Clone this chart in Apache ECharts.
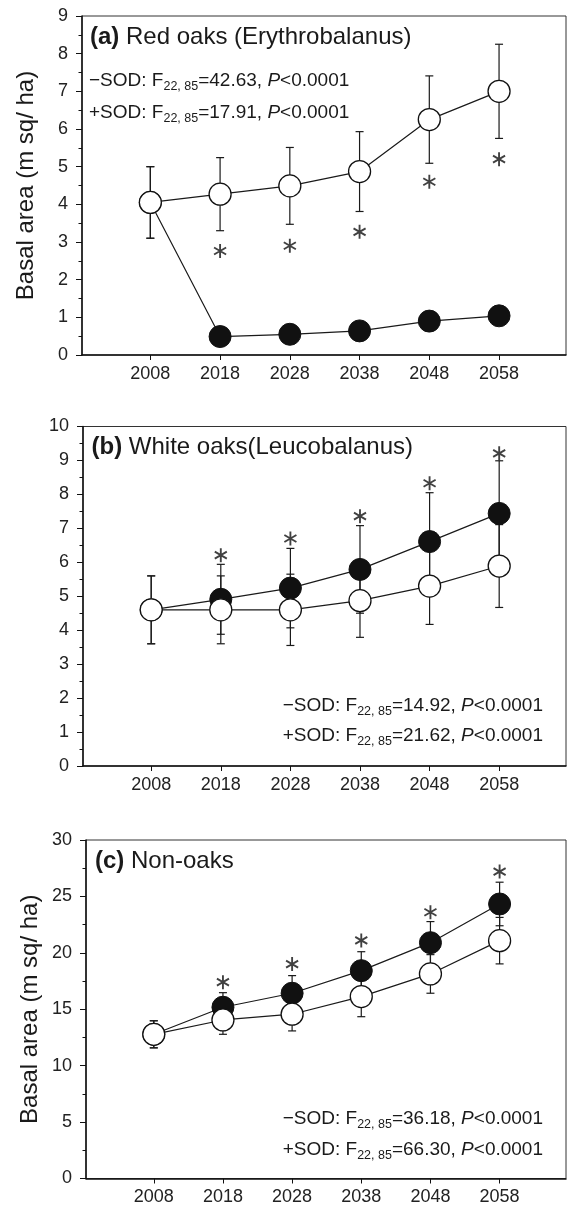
<!DOCTYPE html>
<html>
<head>
<meta charset="utf-8">
<title>Basal area projections</title>
<script src="https://cdn.jsdelivr.net/npm/echarts@6/dist/echarts.min.js"></script>
<style>
  html, body { margin: 0; padding: 0; background: #fff; }
  #chart { width: 568px; height: 1207px; }
</style>
</head>
<body>
<div id="chart"></div>
<script>
// x categories (years)
const years = [2008, 2018, 2028, 2038, 2048, 2058];

// (a) Red oaks: open = without SOD, filled = with SOD
const redOpen = [4.05, 4.27, 4.49, 4.87, 6.25, 7.0];
const redOpenErr = [0.95, 0.97, 1.02, 1.06, 1.16, 1.25];
const redFilled = [4.05, 0.49, 0.55, 0.64, 0.9, 1.04];
const redFilledErr = [0.95, 0.1, 0.1, 0.12, 0.15, 0.18];
const redStar = [null, 2.76, 2.9, 3.27, 4.6, 5.2];

// (b) White oaks
const whiteOpen = [4.6, 4.6, 4.6, 4.87, 5.3, 5.89];
const whiteOpenErr = [1.0, 1.0, 1.05, 1.08, 1.13, 1.22];
const whiteFilled = [4.6, 4.91, 5.24, 5.79, 6.61, 7.44];
const whiteFilledErr = [1.0, 1.03, 1.17, 1.29, 1.44, 1.55];
const whiteStar = [null, 6.21, 6.7, 7.36, 8.33, 9.21];

// (c) Non-oaks
const nonOpen = [12.78, 14.05, 14.56, 16.12, 18.13, 21.08];
const nonOpenErr = [1.2, 1.27, 1.48, 1.78, 1.71, 2.06];
const nonFilled = [12.78, 15.18, 16.42, 18.42, 20.9, 24.33];
const nonFilledErr = [1.2, 1.29, 1.56, 1.68, 1.87, 1.93];
const nonStar = [null, 17.4, 19.0, 21.1, 23.6, 27.2];

const FONT = '"Liberation Sans", Arial, Helvetica, sans-serif';
const INK = '#1a1a1a';
// six-armed asterisk
const STAR = 'path://M-1.35,-10L1.35,-10L1.35,10L-1.35,10Z M7.985,-6.169L9.335,-3.831L-7.985,6.169L-9.335,3.831Z M-9.335,-3.831L-7.985,-6.169L9.335,3.831L7.985,6.169Z';

const panels = [
  { left: 82, top: 16, height: 339, max: 9, step: 1, yName: 'Basal area (m sq/ ha)',
    open: redOpen, openErr: redOpenErr, filled: redFilled, filledErr: redFilledErr, star: redStar },
  { left: 83, top: 426.5, height: 339.5, max: 10, step: 1, yName: '',
    open: whiteOpen, openErr: whiteOpenErr, filled: whiteFilled, filledErr: whiteFilledErr, star: whiteStar },
  { left: 86, top: 840, height: 338.5, max: 30, step: 5, yName: 'Basal area (m sq/ ha)',
    open: nonOpen, openErr: nonOpenErr, filled: nonFilled, filledErr: nonFilledErr, star: nonStar }
];

function errBars(idx, vals, errs) {
  return {
    type: 'custom', xAxisIndex: idx, yAxisIndex: idx, z: 2, silent: true,
    encode: { x: 0, y: [1, 2] },
    data: years.map((y, i) => [y, vals[i] - errs[i], vals[i] + errs[i]]),
    renderItem: function (params, api) {
      const x = api.value(0);
      const lo = api.coord([x, api.value(1)]);
      const hi = api.coord([x, api.value(2)]);
      const c = 4;
      const st = () => ({ stroke: INK, lineWidth: 1.2 });
      return { type: 'group', children: [
        { type: 'line', shape: { x1: lo[0], y1: lo[1], x2: hi[0], y2: hi[1] }, style: st() },
        { type: 'line', shape: { x1: lo[0] - c, y1: lo[1], x2: lo[0] + c, y2: lo[1] }, style: st() },
        { type: 'line', shape: { x1: hi[0] - c, y1: hi[1], x2: hi[0] + c, y2: hi[1] }, style: st() }
      ]};
    }
  };
}

const grid = [], xAxis = [], yAxis = [], series = [];
panels.forEach((p, i) => {
  grid.push({ left: p.left, right: 2, top: p.top, height: p.height, show: true,
    borderColor: '#333', borderWidth: 1, outerBoundsMode: 'none' });
  xAxis.push({
    type: 'value', gridIndex: i, min: 1998.2, max: 2067.6,
    axisLine: { onZero: false, lineStyle: { color: '#111', width: 1.5 } },
    axisTick: { customValues: years, length: 5, lineStyle: { color: '#111' } },
    axisLabel: { customValues: years, formatter: v => String(v), fontSize: 18, color: '#222', margin: 10, fontFamily: FONT },
    splitLine: { show: false }
  });
  yAxis.push({
    type: 'value', gridIndex: i, min: 0, max: p.max, interval: p.step,
    name: p.yName, nameLocation: 'middle', nameRotate: 90, nameGap: 44, nameMoveOverlap: false,
    nameTextStyle: { fontSize: 24, color: INK, fontFamily: FONT },
    axisLine: { show: true, lineStyle: { color: '#111', width: 1.5 } },
    axisTick: { show: true, length: 6, lineStyle: { color: '#111' } },
    minorTick: { show: true, splitNumber: 2, length: 3.5, lineStyle: { color: '#111' } },
    axisLabel: { fontSize: 18, color: '#222', margin: 14, fontFamily: FONT },
    splitLine: { show: false }
  });
  series.push(errBars(i, p.filled, p.filledErr));
  series.push(errBars(i, p.open, p.openErr));
  series.push({
    type: 'line', xAxisIndex: i, yAxisIndex: i, z: 3, silent: true, showAllSymbol: true,
    data: years.map((y, k) => [y, p.filled[k]]),
    symbol: 'circle', symbolSize: 22,
    itemStyle: { color: '#111', borderColor: '#111', borderWidth: 1 },
    lineStyle: { color: INK, width: 1.2 }
  });
  series.push({
    type: 'line', xAxisIndex: i, yAxisIndex: i, z: 4, silent: true, showAllSymbol: true,
    data: years.map((y, k) => [y, p.open[k]]),
    symbol: 'circle', symbolSize: 22,
    itemStyle: { color: '#fff', borderColor: '#111', borderWidth: 1.3 },
    lineStyle: { color: INK, width: 1.2 }
  });
  series.push({
    type: 'scatter', xAxisIndex: i, yAxisIndex: i, z: 5, silent: true,
    data: years.map((y, k) => [y, p.star[k]]).filter(d => d[1] != null),
    symbol: STAR, symbolSize: [13, 14],
    itemStyle: { color: '#111' }
  });
});

function rich(size) {
  return {
    n: { fontSize: size, fontFamily: FONT, fill: INK, lineHeight: size + 6 },
    b: { fontSize: size, fontFamily: FONT, fontWeight: 'bold', fill: INK, lineHeight: size + 6 },
    i: { fontSize: size, fontFamily: FONT, fontStyle: 'italic', fill: INK, lineHeight: size + 6 },
    s: { fontSize: 12.5, fontFamily: FONT, fill: INK, lineHeight: 10, verticalAlign: 'bottom' }
  };
}
function label(x, y, text, size, align) {
  return { type: 'text', x: x, y: y, z: 10, silent: true,
    style: { text: text, rich: rich(size), align: align || 'left', verticalAlign: 'middle' } };
}
function stat(x, y, sign, f, align) {
  return label(x, y, '{n|' + sign + 'SOD: F}{s|22, 85}{n|=' + f + ', }{i|P}{n|<0.0001}', 19, align);
}

const graphic = [
  label(90, 37, '{b|(a)}{n| Red oaks (Erythrobalanus)}', 24),
  stat(89, 81, '\u2212', '42.63'),
  stat(89, 112.5, '+', '17.91'),
  label(91.5, 447, '{b|(b)}{n| White oaks(Leucobalanus)}', 24),
  stat(543, 706, '\u2212', '14.92', 'right'),
  stat(543, 736, '+', '21.62', 'right'),
  label(95, 861, '{b|(c)}{n| Non-oaks}', 24),
  stat(543, 1119, '\u2212', '36.18', 'right'),
  stat(543, 1150, '+', '66.30', 'right')
];

const chart = echarts.init(document.getElementById('chart'), null, { renderer: 'canvas' });
chart.setOption({
  animation: false,
  backgroundColor: '#fff',
  textStyle: { fontFamily: FONT },
  grid: grid,
  xAxis: xAxis,
  yAxis: yAxis,
  series: series,
  graphic: graphic
});
</script>
</body>
</html>
